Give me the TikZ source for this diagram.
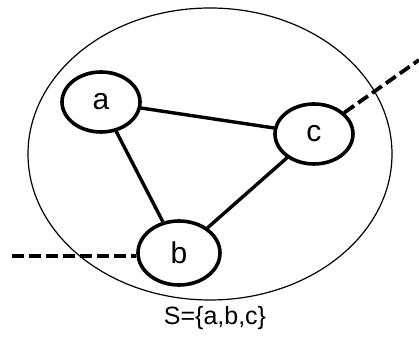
\documentclass[tikz,border=0pt]{standalone}
\usepackage{fontspec}
\setmainfont{Liberation Sans}
\usetikzlibrary{shapes.geometric}
\begin{document}
\begin{tikzpicture}[x=0.5pt, y=-0.5pt, vertex/.style={ellipse, draw, line width=1.8pt, minimum width=39pt, minimum height=30pt, inner sep=0pt, font=\fontsize{15}{17}\selectfont}, edge/.style={line width=1.7pt}, cut/.style={line width=1.9pt, dash pattern=on 6pt off 2.5pt}]
        % Fix the page to the reference size
        \useasboundingbox (0,0) rectangle (419,341);

        % Draw the set enclosing the vertices
        \node[ellipse, draw, line width=0.6pt, minimum width=182pt, minimum height=146pt, inner sep=0pt] (set) at (210,154) {};
        \node[font=\fontsize{12.5}{14}\selectfont] (lbl) at (215,318) {S=\{a,b,c\}};

        % Draw the vertices
        \node[vertex] (a) at (101,102) {a};
        \node[vertex] (c) at (314,134) {c};
        \node[vertex, minimum width=41pt, minimum height=32pt] (b) at (179,253) {b};

        % Draw the edges
        \draw[edge] (a) -- (c);
        \draw[edge] (a) -- (b);
        \draw[edge] (b) -- (c);

        % Draw the edges leaving the set
        \coordinate (left) at (12,256);
        \coordinate (right) at (419,60);
        \draw[cut] (left) -- (left -| b.west);
        \draw[cut] (c) -- (right);
      \end{tikzpicture}
\end{document}
